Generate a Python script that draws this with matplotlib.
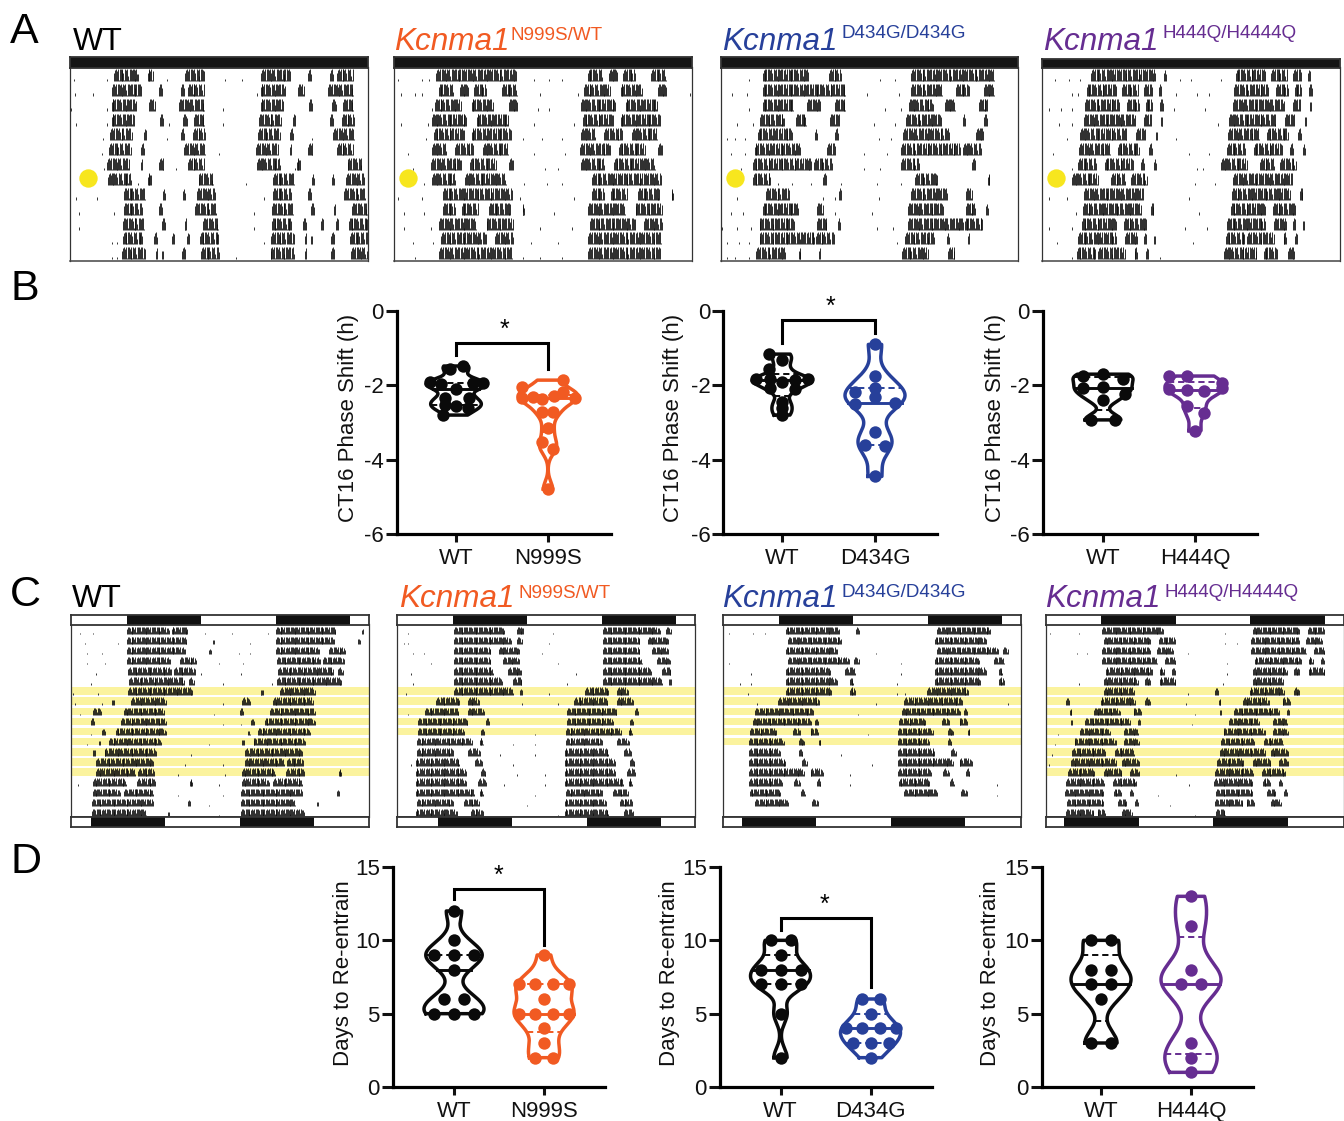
import numpy as np
import matplotlib
matplotlib.use("Agg")
import matplotlib.pyplot as plt

plt.rcParams['font.family'] = ['Liberation Sans', 'DejaVu Sans']
plt.rcParams['axes.unicode_minus'] = False

W, H = 1344, 1121
BLACK, ORANGE, BLUE, PURPLE = '#0a0a0a', '#F15A22', '#27409A', '#662D91'

# ---------- Panel A: activity bouts per day, (start h, end h) ----------
A_WT = [
 [(7.1,11.0),(12.5,13.5),(18.6,21.7)], [(6.8,11.6),(14.3,14.8),(17.9,18.4),(19.0,21.7)],
 [(6.7,10.7),(12.8,13.8),(17.6,21.8)], [(6.7,10.4),(14.5,15.0),(18.2,18.8),(20.0,21.7)],
 [(6.5,10.0),(11.9,12.3),(17.9,18.4),(19.8,21.8)], [(6.3,9.8),(11.4,11.9),(18.4,21.7)],
 [(6.0,9.6),(11.4,11.7),(14.3,15.2),(19.0,21.7)], [(6.1,9.9),(12.5,13.2),(20.7,23.1)],
 [(8.7,12.0),(15.0,15.3),(18.2,18.5),(20.5,23.4)], [(8.7,11.6),(14.3,14.8),(20.2,23.6)],
 [(8.6,11.9),(14.8,15.3),(18.6,18.9),(21.5,24)], [(8.5,11.7),(13.5,14.0),(16.4,16.8),(18.9,19.3),(20.9,24)],
 [(8.4,12.1),(13.8,14.1),(14.8,15.0),(18.1,18.7),(21.1,24)], [(8.3,12.1),(13.8,14.1),(18.1,18.7),(21.3,23.9)],
]
A_N999S = [
 [(6.8,19.8)], [(7.2,9.5),(10.6,12.0),(12.9,14.9),(17.4,19.9)], [(6.6,10.9),(12.5,16.0),(18.5,19.9)],
 [(6.1,11.7),(13.3,18.5)], [(6.4,11.3),(12.5,18.9)], [(6.1,8.4),(9.9,12.9),(14.3,18.5)],
 [(6.0,10.9),(12.2,16.5),(18.5,19.2)], [(6.1,9.9),(11.4,18.1)], [(7.9,19.1)],
 [(7.9,9.9),(10.9,13.6),(15.3,18.9),(20.7,21.0)], [(7.3,13.2),(14.9,19.2)], [(7.6,14.9),(16.3,19.2)],
 [(7.3,19.1)], [(7.3,19.0)],
]
A_D434G = [
 [(6.8,14.2),(17.5,19.5)], [(6.8,20.2)], [(6.8,11.8),(14.0,16.2),(18.5,20.2)],
 [(6.4,10.3),(12.2,13.9),(17.7,19.2)], [(6.0,11.6),(15.2,15.5),(18.5,19.0)], [(5.5,12.9),(17.2,18.5)],
 [(5.2,14.7),(15.1,18.0)], [(5.2,8.1),(16.6,17.2)], [(7.4,11.1),(19.1,19.5)],
 [(6.8,12.6),(15.6,16.6)], [(6.3,11.9),(15.6,17.2),(18.9,19.2)], [(6.3,15.2),(15.4,18.4)],
 [(5.8,10.5),(12.6,12.9),(15.9,16.2)], [(5.3,9.6),(12.7,13.8)],
]
A_H444Q = [
 [(7.9,18.3),(19.7,20.0)], [(7.2,12.0),(12.9,15.6),(16.5,17.8),(18.9,19.3)],
 [(7.0,12.5),(13.7,15.7),(16.7,17.8),(19.0,19.5)], [(6.8,15.0),(16.5,17.7),(19.2,19.4)],
 [(6.1,13.7),(15.2,16.7),(18.3,18.5)], [(6.0,11.1),(12.2,15.7),(17.3,17.8)],
 [(5.8,8.7),(10.1,14.7),(16.0,16.5),(18.0,18.3)], [(4.8,9.1),(11.1,13.4),(14.4,17.0)],
 [(6.8,16.4)], [(6.6,16.0),(17.5,18.0)], [(6.4,12.0),(13.2,16.9)],
 [(5.8,12.0),(13.4,15.4),(16.4,16.8),(18.0,18.2)], [(5.6,8.7),(9.1,13.4),(14.9,15.4),(16.7,17.1)],
 [(5.3,10.6),(11.7,13.9),(15.6,16.7)],
]
# isolated activity counts, (row, hour on the 48 h axis)
A_WT_STRAY = [(0,.6),(0,6),(0,15.7),(0,24.9),(0,27.7),(1,.8),(1,3.7),(1,30.1),(2,.2),(2,6),(2,24.7),(3,.9),(3,6),(3,16),(3,24.7),
 (4,5.3),(4,15.7),(4,39),(5,5.1),(5,24),(6,5.4),(6,17.1),(6,36.2),(7,11),(7,28.3),(8,.9),(8,4.4),(8,31.2),(9,1.5),(9,7.1),(9,29.7),
 (10,1.5),(10,18.6),(10,29.7),(11,6.7),(11,7.6),(11,31.2),(12,6.7),(12,7.6),(12,26.7)]
A_N999S_STRAY = [(0,.7),(0,4.5),(0,5.7),(0,22.5),(0,25),(0,27),(1,1.2),(1,3.4),(1,4.5),(1,23.5),(1,29.7),(1,47.7),(2,6.1),(2,23.2),(2,25),
 (3,1.2),(3,5.5),(3,22.5),(3,29),(4,5.2),(4,20.7),(4,23.9),(4,27.1),(5,2.3),(5,22.5),(5,27.5),(6,3),(6,24.3),(6,26.4),(7,4.8),(7,21),(7,24.6),(7,27.1),
 (8,.7),(8,4.5),(8,20.3),(8,29),(9,1.6),(9,4.8),(9,20.7),(9,25.7),(10,1.6),(10,5.9),(10,23.5),(10,28.6),(11,3),(11,6.3),(11,22.1),(11,26.4),
 (12,3.4),(12,20.7),(12,23.5),(12,27.1)]
A_D434G_STRAY = [(0,4.6),(0,25.8),(0,28.1),(1,1.9),(1,4.2),(1,23.7),(1,28.8),(2,4.6),(2,26.5),(2,29.1),(3,2.6),(3,5.3),(3,24.8),(3,28.1),
 (4,1),(4,2.3),(4,4),(4,25.5),(4,27.5),(5,1.7),(5,4),(5,23.2),(5,26.8),(6,3.3),(6,23.2),(6,25.8),(7,9.3),(7,11.6),(7,14.6),(7,19.5),(7,25.2),(7,29.1),
 (8,2.6),(8,16.6),(8,18.5),(8,25.5),(9,1.7),(9,3.6),(9,18.5),(9,24.5),(10,.3),(10,2.6),(10,5),(10,25.2),(10,27.8),(11,1),(11,3),(11,4.6),(11,28.5),(12,1),(12,2.3),(12,4.6)]
A_H444Q_STRAY = [(0,2.1),(0,4.4),(0,6.1),(0,22.3),(0,24),(0,28.9),(1,4.8),(1,5.8),(1,21.6),(1,25),(1,26.9),(2,1.1),(2,3.1),(2,4.8),(2,21.3),(2,26.3),
 (3,2.8),(3,4.8),(3,19.3),(3,28.3),(4,4.1),(4,21.6),(5,1.8),(5,23.6),(5,26.9),(6,4.8),(6,25),(6,26),(7,24.6),(7,27.9),(8,1.1),(8,4.1),(8,23.6),
 (9,5.4),(9,25.3),(10,1.1),(10,4.8),(10,23),(10,26.6),(11,2.4),(11,24.3),(12,4.8),(12,19)]

# ---------- Panel C: activity bouts per day ----------
C_WT = [
 [(9.0,15.8),(16.2,18.9)], [(9.0,18.7),(22.9,23.1)], [(9.0,18.4),(22.2,22.5)], [(9.0,16.0),(17.6,20.2)],
 [(9.2,16.2),(16.6,20.0)], [(9.4,18.4),(19.0,19.8)], [(9.2,19.6)], [(6.6,6.9),(9.7,15.3)],
 [(3.6,4.9),(8.5,15.1)], [(3.2,3.8),(8.1,15.3)], [(5.0,5.5),(7.2,15.3)], [(4.5,4.7),(6.1,14.5)],
 [(3.6,4.0),(5.4,13.7)], [(4.1,13.3)], [(4.0,10.4),(10.8,13.5)], [(3.5,8.9),(10.7,13.7),(19.1,19.6)],
 [(3.5,7.9),(8.6,13.3)], [(3.4,13.3),(18.9,19.3)], [(3.4,12.2),(15.6,15.8)], [(3.4,13.5)],
]
C_N999S = [
 [(9.2,17.3),(19.3,20.5)], [(9.2,18.4),(19.4,20.2)], [(9.2,15.1),(16.4,19.8)], [(9.2,15.1),(17.1,19.8)],
 [(9.2,15.5),(17.9,20.0)], [(9.2,16.9),(18.7,20.2)], [(9.2,18.7),(19.8,20.2)], [(6.3,10.1),(11.4,13.3)],
 [(4.5,9.9),(11.4,14.0)], [(3.4,11.5),(14.4,15.0)], [(3.4,10.8),(13.5,14.0)], [(3.2,12.2),(13.3,14.0)],
 [(3.2,9.2),(11.5,13.3)], [(3.0,10.1),(12.6,13.7)], [(3.0,11.2),(13.5,14.3)], [(3.0,11.2),(13.1,14.4)],
 [(3.0,12.6),(13.3,14.0)], [(3.2,9.2),(10.8,13.3)], [(3.0,9.7),(11.9,14.0)], [(3.0,10.2),(12.6,14.0)],
]
C_D434G = [
 [(10.1,18.7),(21.4,21.9)], [(10.5,19.1)], [(10.1,18.4)], [(10.5,20.4),(21.1,22.0)], [(10.1,17.3),(19.7,21.3)],
 [(10.1,18.4),(20.4,21.0)], [(10.1,17.5),(20.4,21.4)], [(8.9,15.6)], [(5.2,14.6)], [(4.8,14.1),(14.8,15.3)],
 [(4.4,8.7),(11.3,12.4),(14.1,15.4)], [(4.2,9.8),(12.2,13.1),(15.4,15.8)], [(4.2,9.2),(12.2,12.8)],
 [(4.2,10.1),(12.8,13.6)], [(4.2,13.1),(14.1,16.1)], [(4.2,9.5),(11.5,12.4),(15.1,15.8)],
 [(4.3,9.3),(12.6,13.3)], [(5.2,10.5),(14.4,15.4)], [], [],
]
C_H444Q = [
 [(9.1,18.9)], [(9.3,16.9),(18.2,20.9)], [(9.1,16.9),(17.9,20.5)], [(9.1,17.9),(19.2,20.9)],
 [(9.6,17.2),(18.3,19.2),(20.3,20.9)], [(9.3,14.9),(15.9,16.9),(18.3,20.9)], [(9.3,14.2)],
 [(3.2,3.8),(8.8,14.4),(15.9,16.8)], [(3.8,4.2),(7.7,11.9),(14.1,15.4)], [(4.0,4.3),(6.3,13.6),(14.8,15.2)],
 [(5.5,10.3),(12.6,14.9)], [(4.6,11.3),(12.6,15.0)], [(4.2,9.6),(11.1,14.2)], [(4.0,11.3),(12.2,14.9)],
 [(3.6,7.9),(9.3,12.2),(13.6,15.0)], [(3.3,9.3),(10.8,14.6)], [(3.1,9.3),(10.9,12.2),(13.6,14.1)],
 [(3.4,9.3),(11.6,13.0),(14.4,15.0)], [(3.3,7.7),(8.3,9.6),(12.2,13.9)], [(3.4,5.0)],
]
C_WT_STRAY = [(0,1.4),(0,3.6),(0,21.6),(0,25.9),(0,31.7),(1,2.2),(1,7.6),(1,28.8),(2,2.5),(2,5),(2,27),(2,28.8),(3,2.5),(3,5.4),(3,23.8),(3,27.7),
 (4,4),(4,20.9),(4,27.4),(5,3.2),(5,24.5),(5,32.4),(6,.4),(6,4.3),(6,30.6),(7,.7),(7,5),(7,24.5),(8,1.4),(8,23),(8,27.4),(9,24.5),(9,27.4),(10,3.2),(10,28.8),
 (11,2.5),(11,22.3),(12,19.4),(12,28.8),(13,18.4),(13,24.5),(14,17.3),(14,24.8),(15,1.1),(15,23.8),(16,17.3),(16,24.5),(17,22.3),(18,23.8)]
C_N999S_STRAY = [(0,1.8),(0,25.2),(1,1.1),(1,1.8),(1,24.5),(2,2.5),(2,4.3),(2,23.4),(3,5.4),(3,25.9),(4,2.2),(4,28.8),(5,2.5),(5,27.4),(6,1.4),(6,24.5),
 (7,20.2),(7,25.9),(8,1.8),(10,22.3),(11,18.7),(11,22.3),(12,16.6),(12,22.3),(13,2.2),(13,18.7),(14,19.4),(14,23.8),(15,17.3),(15,23.8),(16,22.3),(17,20.9),(18,25.9)]
C_D434G_STRAY = [(0,.9),(0,4.8),(0,6.8),(2,24.7),(3,.9),(3,28.7),(4,4.5),(4,28.7),(5,2.8),(5,4.5),(5,28),(6,4),(6,28),(6,29.3),(7,5.5),(7,24.7),(7,45.9),
 (8,21.7),(10,23.4),(12,19),(13,24),(14,20.4),(15,20.4),(15,44.2),(16,44.2)]
C_H444Q_STRAY = [(0,.7),(0,5.3),(0,28.8),(1,28.8),(1,30.8),(2,5),(2,6.6),(2,22.8),(3,29.1),(4,29.1),(5,5.3),(5,28.5),(6,22.9),(7,22.6),(8,24),(9,23.5),
 (10,2),(11,1.5),(12,1),(13,.5),(14,21),(15,23),(16,18),(17,20),(18,24)]

LIGHT_PULSE_HOUR = [2.9, 2.2, 2.4, 2.2]   # yellow dot position on the 48 h axis
LIGHT_PULSE_ROW = 7
DARK_TOP = [9.0, 9.0, 9.0, 8.9]           # dark onset before the shift
DARK_BOTTOM = [3.2, 6.6, 3.0, 2.9]        # dark onset after the shift
DARK_LEN = 12.0
JETLAG_ROWS = [range(6, 15), range(6, 11), range(6, 12), range(6, 15)]

# ---------- Panel B: CT16 phase shift (h) ----------
B_GROUPS = [['WT', 'N999S'], ['WT', 'D434G'], ['WT', 'H444Q']]
B1_WT = [-1.56,-1.48,-1.9,-1.97,-1.95,-1.95,-2.1,-2.35,-2.35,-2.52,-2.55,-2.62,-2.8]
B1_WT_SWARM = [-6,6.5,-26,-15,17,27,0,-11.5,13,-11.5,0,12,-13]
B1_N999S = [-1.86,-2.04,-2.17,-2.33,-2.31,-2.37,-2.29,-2.33,-2.71,-2.71,-3.16,-3.53,-3.72,-4.79]
B1_N999S_SWARM = [15,-26,15,-26,-15,-6,6,27,-6,5,0,-6,5,0]
B2_WT = [-1.16,-1.32,-1.57,-1.84,-1.84,-1.84,-1.9,-1.86,-2.08,-2.11,-2.44,-2.62,-2.8]
B2_WT_SWARM = [-13,0,-13,-26,26,-12,0,13,-12,13,0,0,0]
B2_D434G = [-.9,-1.75,-2.08,-2.17,-2.31,-2.5,-2.47,-3.25,-3.6,-3.63,-4.45]
B2_D434G_SWARM = [0,0,0,-20,0,-20,20,0,-10,10,0]
B3_WT = [-1.75,-1.7,-1.82,-2.04,-2.08,-2.22,-2.4,-2.93,-2.93]
B3_WT_SWARM = [-20,0,20,0,-20,22,0,-12,12]
B3_H444Q = [-1.75,-1.75,-1.95,-2.11,-2.13,-2.15,-2.06,-2.55,-2.75,-3.22]
B3_H444Q_SWARM = [-26,-8,27,-26,-8,9,27,-8,9,0]

# ---------- Panel D: days to re-entrain ----------
D_GROUPS = [['WT', 'N999S'], ['WT', 'D434G'], ['WT', 'H444Q']]
D1_WT = [12,10,9,9,9,8,6,6,5,5,5]
D1_WT_SWARM = [0,0,-20,0,20,0,-10,10,-20,0,20]
D1_N999S = [9,7,7,7,7,6,5,5,5,5,4,3,2,2]
D1_N999S_SWARM = [0,-25,-9,9,25,0,-25,-9,9,25,0,0,-9,9]
D2_WT = [10,10,9,8,8,8,7,7,7,5,2]
D2_WT_SWARM = [-10,10,0,-20,0,20,-20,0,20,0,0]
D2_D434G = [6,6,5,4,4,4,4,3,3,3,2]
D2_D434G_SWARM = [-9,9,0,-25,-9,9,25,-18,0,18,0]
D3_WT = [10,10,8,8,7,7,6,3,3]
D3_WT_SWARM = [-10,10,-10,10,-10,10,0,-10,10]
D3_H444Q = [13,11,8,7,7,3,2,1]
D3_H444Q_SWARM = [0,0,0,-10,10,0,0,0]

fig = plt.figure(figsize=(W/100, H/100), dpi=100, facecolor='white')

def axpx(x0, y0, x1, y1, **kw):
    return fig.add_axes([x0/W, 1-y1/H, (x1-x0)/W, (y1-y0)/H], **kw)

def ftext(x, y, s, **kw):
    return fig.text(x/W, 1-y/H, s, **kw)

# fixed height texture of the fine actogram bins inside one bout
COMB_A = [1, .95, 1, .86, 1, .12, 1, 1, .9, 1, .7, .1, 1, .94, 1, .45, .08, 1, 1, .88, 1, 1, .15, .95, 1, .62, 1, .1]
COMB_C = [1, .93, 1, .8, .35, 1, .96, 1, .72, 1, .3, .9, 1, .88, 1, .4]

def actogram(box, days, stray, row0, row_step, bar_px, comb, shade=None, lw=0.62, comb_dh=0.15, taper=1.0):
    x0, y0, x1, y1 = box
    ax = axpx(x0, y0, x1, y1)
    ax.set_xlim(0, 48)
    ax.set_ylim((y1-row0)/row_step, (y0-row0)/row_step)
    bar = bar_px/row_step
    if shade is not None:
        for r in shade:
            ax.barh(r-bar/2, 48, height=bar, left=0, color='#FBF39E', lw=0, zorder=0)
    xs, lo, hi = [], [], []
    nrow = len(days)-1
    for r in range(nrow):
        for day, shift in ((r, 0), (r+1, 24)):
            for s, e in days[day]:
                t = np.arange(s, e, comb_dh)
                for i, tt in enumerate(t):
                    k = min(1.0, .6+(e-tt)/taper) * min(1.0, .7+(tt-s)/0.5)
                    xs.append(tt+shift); lo.append(r); hi.append(r-bar*comb[i % len(comb)]*k)
    ax.vlines(xs, lo, hi, colors='#101010', lw=lw, zorder=2)
    if stray:
        rr = [p[0] for p in stray]; hh = [p[1] for p in stray]
        ax.vlines(hh, rr, [v-bar*0.2 for v in rr], colors='#333333', lw=0.7, zorder=2)
    ax.spines['top'].set_visible(False)
    for s in ('left', 'right'):
        ax.spines[s].set_linewidth(0.9); ax.spines[s].set_color('#333333')
        ax.spines[s].set_linestyle((0, (7, 1)))
    ax.spines['bottom'].set_linewidth(1.1); ax.spines['bottom'].set_color('#444444')
    ax.set_xticks([]); ax.set_yticks([])
    ax.patch.set_alpha(0)
    return ax

def ldbar(box, onset, full=False):
    ax = axpx(*box)
    ax.set_xlim(0, 48); ax.set_ylim(0, 1)
    if full:
        ax.barh(.5, 48, height=1, left=0, color='#151515', lw=0)
    else:
        ax.broken_barh([(onset, DARK_LEN), (onset+24, DARK_LEN)], (0, 1), color='#111111', lw=0)
    ax.set_xticks([]); ax.set_yticks([])
    for s in ax.spines.values():
        s.set_linewidth(1.3); s.set_color('#333333')

A_X = [(70, 368), (394, 692), (720.5, 1018), (1042, 1340)]
C_X = [(71, 369), (397, 695), (723, 1021), (1046, 1344)]
A_DATA = [(A_WT, A_WT_STRAY), (A_N999S, A_N999S_STRAY), (A_D434G, A_D434G_STRAY), (A_H444Q, A_H444Q_STRAY)]
C_DATA = [(C_WT, C_WT_STRAY), (C_N999S, C_N999S_STRAY), (C_D434G, C_D434G_STRAY), (C_H444Q, C_H444Q_STRAY)]

for i in range(4):
    x0, x1 = A_X[i]
    ax = actogram((x0, 67, x1, 261), A_DATA[i][0], A_DATA[i][1], 81, 14.86, 12, COMB_A, taper=0.4)
    ax.scatter([LIGHT_PULSE_HOUR[i]], [LIGHT_PULSE_ROW-0.47], s=175, color='#F7E61E', lw=0, zorder=3, clip_on=False)
    ldbar((x0, 57 if i < 3 else 58.5, x1, 67.5), 0, full=True)
    x0, x1 = C_X[i]
    actogram((x0, 624, x1, 817), C_DATA[i][0], C_DATA[i][1], 634, 10.13, 7.5, COMB_C, shade=JETLAG_ROWS[i], taper=1.0)
    ldbar((x0, 615, x1, 625), DARK_TOP[i])
    ldbar((x0, 817, x1, 827), DARK_BOTTOM[i])

def gene_title(x, xs, y, ys, sup, color):
    ftext(x, y, 'Kcnma1', fontsize=22.7, style='italic', color=color, ha='left', va='baseline')
    ftext(xs, ys, sup, fontsize=13.6, color=color, ha='left', va='baseline')

ftext(73, 50, 'WT', fontsize=23, color='black', ha='left', va='baseline')
gene_title(394, 511, 50, 39.5, 'N999S/WT', ORANGE)
gene_title(722, 841.5, 50, 38, 'D434G/D434G', BLUE)
gene_title(1043, 1162, 50, 38, 'H444Q/H4444Q', PURPLE)
ftext(72, 607, 'WT', fontsize=23, color='black', ha='left', va='baseline')
gene_title(399, 518, 607, 597.5, 'N999S/WT', ORANGE)
gene_title(722, 841.5, 607, 597, 'D434G/D434G', BLUE)
gene_title(1045, 1165, 607, 597, 'H444Q/H4444Q', PURPLE)

for s, x, y in (('A', 10, 43), ('B', 10, 300), ('C', 10, 606), ('D', 10, 873)):
    ftext(x, y, s, fontsize=31, color='black', ha='left', va='baseline')

def kde(grid, vals, bw):
    vals = np.asarray(vals, float)
    return np.exp(-.5*((grid[:, None]-vals[None, :])/bw)**2).sum(axis=1)

def violin(ax, pos, vals, swarm, color, bw, ppu):
    vals = np.asarray(vals, float)
    grid = np.linspace(vals.min(), vals.max(), 300)
    d = kde(grid, vals, bw)
    half = d/d.max()*(30/ppu)
    xs = np.r_[pos-half, (pos+half)[::-1], pos-half[0]]
    ys = np.r_[grid, grid[::-1], grid[0]]
    ax.plot(xs, ys, color=color, lw=2.5, solid_joinstyle='round', zorder=3, clip_on=False)
    q1, med, q3 = np.percentile(vals, [25, 50, 75], method='weibull')
    for q, ls, lw in ((q1, (0, (3.2, 2)), 1.4), (q3, (0, (3.2, 2)), 1.4), (med, '-', 2.1)):
        h = np.interp(q, grid, half)
        ax.plot([pos-h, pos+h], [q, q], color=color, lw=lw, ls=ls, zorder=3, clip_on=False)
    ax.scatter(pos+np.asarray(swarm)/ppu, vals, s=80, color=color, lw=0, zorder=4, clip_on=False)

def stats_axes(box, t1, t2, ylim, yticks, groups, ylabel, ylab_x, yc):
    x0, y0, x1, y1 = box
    ax = axpx(x0, y0, x1, y1)
    ppu = t2-t1
    ax.set_xlim(1-(t1-x0)/ppu, 2+(x1-t2)/ppu)
    ax.set_ylim(*ylim)
    ax.set_xticks([1, 2], groups)
    ax.set_yticks(yticks)
    ax.tick_params(axis='x', length=5.5, width=2.2, pad=4.5, labelsize=16, colors='#111111')
    ax.tick_params(axis='y', length=8, width=2.2, pad=1.5, labelsize=16, colors='#111111')
    for s in ('top', 'right'):
        ax.spines[s].set_visible(False)
    for s in ('left', 'bottom'):
        ax.spines[s].set_linewidth(2.3); ax.spines[s].set_capstyle('projecting')
    ax.patch.set_alpha(0)
    ftext(ylab_x, yc, ylabel, fontsize=16, rotation=90, ha='center', va='center', color='#111111')
    return ax, ppu

def bracket(ax, top, left_end, right_end, star_x, star_y):
    ax.plot([1, 1, 2, 2], [left_end, top, top, right_end], color='black', lw=2.2,
            solid_joinstyle='miter', clip_on=False, zorder=5)
    ax.text(star_x, star_y, '*', fontsize=18, ha='center', va='center', color='black', clip_on=False)

# smoothing of each violin, hours (B) and days (D)
B_BW = [(0.14, 0.20), (0.14, 0.32), (0.16, 0.20)]
D_BW = [(0.72, 0.8), (0.65, 0.7), (0.9, 1.25)]
B_BOX = [(397, 311, 611, 534, 456, 548, 348), (723.5, 311, 937, 534, 782, 875, 674), (1043, 311, 1257, 534, 1103, 1195, 995)]
B_VALUES = [(B1_WT, B1_WT_SWARM, B1_N999S, B1_N999S_SWARM, ORANGE),
            (B2_WT, B2_WT_SWARM, B2_D434G, B2_D434G_SWARM, BLUE),
            (B3_WT, B3_WT_SWARM, B3_H444Q, B3_H444Q_SWARM, PURPLE)]
B_BRACKETS = [(-0.86, -1.19, -1.57, 1.53, -0.5), (-0.25, -0.86, -0.59, 1.52, 0.12), None]
for i in range(3):
    x0, y0, x1, y1, t1, t2, lx = B_BOX[i]
    ax, ppu = stats_axes((x0, y0, x1, y1), t1, t2, (-6, 0), [0, -2, -4, -6], B_GROUPS[i], 'CT16 Phase Shift (h)', lx, 418)
    a, sa, b, sb, c = B_VALUES[i]
    violin(ax, 1, a, sa, BLACK, B_BW[i][0], ppu)
    violin(ax, 2, b, sb, c, B_BW[i][1], ppu)
    if B_BRACKETS[i]:
        bracket(ax, *B_BRACKETS[i])

D_BOX = [(393, 867, 605, 1087, 454, 544, 344), (720, 867, 932, 1087, 780.5, 870.5, 669), (1042, 867, 1253, 1087, 1101, 1191, 990)]
D_VALUES = [(D1_WT, D1_WT_SWARM, D1_N999S, D1_N999S_SWARM, ORANGE),
            (D2_WT, D2_WT_SWARM, D2_D434G, D2_D434G_SWARM, BLUE),
            (D3_WT, D3_WT_SWARM, D3_H444Q, D3_H444Q_SWARM, PURPLE)]
D_BRACKETS = [(13.5, 12.8, 9.7, 1.49, 14.4), (11.55, 10.7, 6.8, 1.49, 12.45), None]
for i in range(3):
    x0, y0, x1, y1, t1, t2, lx = D_BOX[i]
    ax, ppu = stats_axes((x0, y0, x1, y1), t1, t2, (0, 15), [0, 5, 10, 15], D_GROUPS[i], 'Days to Re-entrain', lx, 973)
    a, sa, b, sb, c = D_VALUES[i]
    violin(ax, 1, a, sa, BLACK, D_BW[i][0], ppu)
    violin(ax, 2, b, sb, c, D_BW[i][1], ppu)
    if D_BRACKETS[i]:
        bracket(ax, *D_BRACKETS[i])

fig.savefig('out.png', dpi=100, facecolor='white')
